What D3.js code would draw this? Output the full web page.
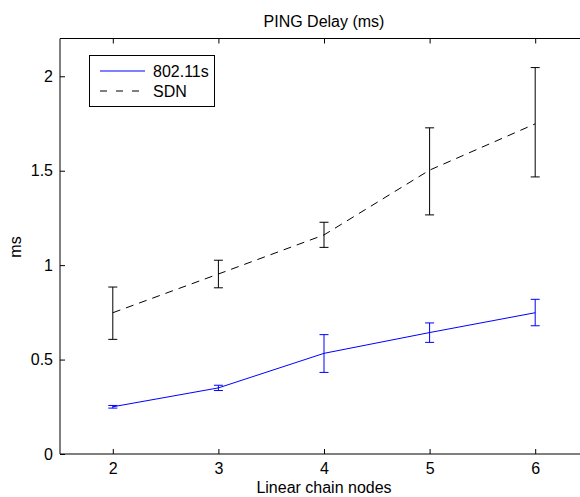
<!DOCTYPE html>
<html>
<head>
<meta charset="utf-8">
<script src="https://cdn.jsdelivr.net/npm/d3@7"></script>
<style>
  html, body { margin: 0; background: #fff; overflow: hidden; }
  svg { display: block; }
  svg text { font-family: "Liberation Sans", Arial, sans-serif; font-size: 16px; fill: #000; }
</style>
</head>
<body>
<div id="chart"></div>
<script>
// values
var nodes = [2, 3, 4, 5, 6];
var wifiMean = [0.25, 0.35, 0.533, 0.643, 0.748];
var wifiLow  = [0.243, 0.336, 0.432, 0.591, 0.679];
var wifiHigh = [0.257, 0.364, 0.632, 0.694, 0.819];
var sdnMean  = [0.748, 0.953, 1.16, 1.503, 1.748];
var sdnLow   = [0.607, 0.88, 1.094, 1.266, 1.467];
var sdnHigh  = [0.884, 1.026, 1.227, 1.727, 2.046];
var yTicks = [0, 0.5, 1, 1.5, 2];

var series = [
  { name: "802.11s", color: "#0000ff", dash: null, mean: wifiMean, lo: wifiLow, hi: wifiHigh },
  { name: "SDN", color: "#000000", dash: "8,6", mean: sdnMean, lo: sdnLow, hi: sdnHigh }
];

var W = 580, H = 497;
// plot box (careful: "top" is taken by window.top)
var box = { left: 60, top: 38.5, right: 588, bottom: 454 };

var svg = d3.select("#chart").append("svg")
    .attr("width", W).attr("height", H);

var x = d3.scaleLinear().domain([1.5, 6.5]).range([box.left, box.right]);
var y = d3.scaleLinear().domain([0, 2.2]).range([box.bottom, box.top]);

// frame: left, top, bottom (the right edge is cut off in the picture)
svg.append("path")
   .attr("d", "M" + box.right + "," + box.top + "H" + box.left + "V" + box.bottom + "H" + box.right)
   .attr("fill", "none").attr("stroke", "#000").attr("stroke-width", 1);

// axes, ticks pointing inward like matlab
var xAxis = d3.axisBottom(x).tickValues(nodes).tickSize(-5).tickPadding(9)
    .tickFormat(d3.format("d"));
svg.append("g").attr("transform", "translate(0," + box.bottom + ")").call(xAxis);
svg.append("g").attr("transform", "translate(0," + box.top + ")")
   .call(d3.axisTop(x).tickValues(nodes).tickSize(-5).tickFormat(""));

var yAxis = d3.axisLeft(y).tickValues(yTicks).tickSize(-5).tickPadding(7)
    .tickFormat(function(d) { return d; });
svg.append("g").attr("transform", "translate(" + box.left + ",0)").call(yAxis);

svg.selectAll(".domain").remove();
svg.selectAll(".tick line").attr("stroke", "#000");
svg.selectAll(".tick text").style("font-size", "16px")
   .style("font-family", "'Liberation Sans', Arial, sans-serif");

// lines + error bars
var line = d3.line()
    .x(function(d, i) { return x(nodes[i]); })
    .y(function(d) { return y(d); });

series.forEach(function(s) {
  var g = svg.append("g");
  g.append("path")
   .datum(s.mean)
   .attr("d", line)
   .attr("fill", "none")
   .attr("stroke", s.color)
   .attr("stroke-width", 1)
   .attr("stroke-dasharray", s.dash);

  var bars = g.selectAll(".eb").data(nodes).enter().append("g");
  bars.append("line")
      .attr("x1", function(d) { return x(d); })
      .attr("x2", function(d) { return x(d); })
      .attr("y1", function(d, i) { return y(s.lo[i]); })
      .attr("y2", function(d, i) { return y(s.hi[i]); })
      .attr("stroke", s.color);
  [s.lo, s.hi].forEach(function(arr) {
    bars.append("line")
        .attr("x1", function(d) { return x(d) - 4.5; })
        .attr("x2", function(d) { return x(d) + 4.5; })
        .attr("y1", function(d, i) { return y(arr[i]); })
        .attr("y2", function(d, i) { return y(arr[i]); })
        .attr("stroke", s.color);
  });
});

// legend
var lg = svg.append("g");
lg.append("rect")
  .attr("x", 89.5).attr("y", 55.5).attr("width", 125).attr("height", 51)
  .attr("fill", "#fff").attr("stroke", "#000");
series.forEach(function(s, i) {
  var ly = 71 + i * 20;
  lg.append("line")
    .attr("x1", 100).attr("x2", 145).attr("y1", ly).attr("y2", ly)
    .attr("stroke", s.color).attr("stroke-dasharray", s.dash ? "7,9" : null);
  lg.append("text").attr("x", 153).attr("y", ly + 6).text(s.name);
});

// labels
svg.append("text").attr("x", (box.left + box.right) / 2).attr("y", 27)
   .attr("text-anchor", "middle").text("PING Delay (ms)");
svg.append("text").attr("x", (box.left + box.right) / 2).attr("y", 493)
   .attr("text-anchor", "middle").text("Linear chain nodes");
svg.append("text")
   .attr("transform", "translate(21,247) rotate(-90)")
   .attr("text-anchor", "middle").text("ms");
</script>
</body>
</html>
